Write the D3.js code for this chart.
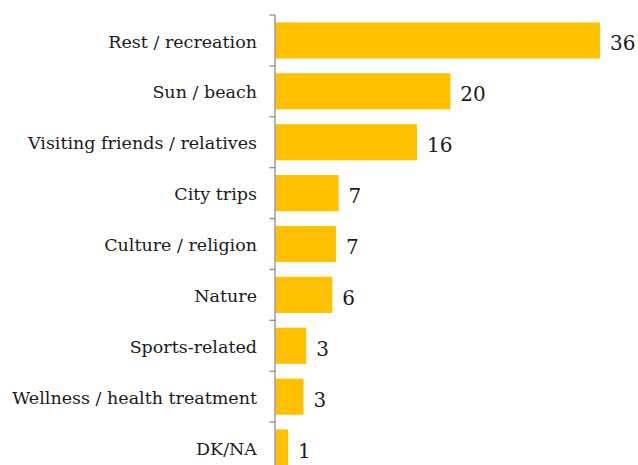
<!DOCTYPE html>
<html>
<head>
<meta charset="utf-8">
<script src="https://cdn.jsdelivr.net/npm/d3@7"></script>
<style>
  body { margin: 0; background: #fff; }
  .cat { font-family: "DejaVu Serif", "Liberation Serif", serif; font-size: 17.5px; fill: #1a1a1a; }
  .val { font-family: "DejaVu Serif", "Liberation Serif", serif; font-size: 20px; fill: #1a1a1a; }
</style>
</head>
<body>
<div id="chart"></div>
<script>
var categories = ["Rest / recreation", "Sun / beach", "Visiting friends / relatives", "City trips",
    "Culture / religion", "Nature", "Sports-related", "Wellness / health treatment", "DK/NA"];
// bar lengths (the printed labels are rounded)
var values = [36, 19.4, 15.7, 7.0, 6.7, 6.3, 3.4, 3.1, 1.4];
var valueLabels = ["36", "20", "16", "7", "7", "6", "3", "3", "1"];

var width = 638,
    height = 465;

var svg = d3.select("#chart").append("svg")
    .attr("width", width)
    .attr("height", height);

var x = d3.scaleLinear()
    .domain([0, 36])
    .range([275.5, 600]);

var y = d3.scaleBand()
    .domain(categories)
    .range([15, 473])
    .paddingInner(0.29)
    .paddingOuter(0.145);

var step = y.step();

// bars
svg.selectAll("rect.bar")
    .data(values)
    .enter()
    .append("rect")
    .attr("class", "bar")
    .attr("x", x(0))
    .attr("y", function(d, i) { return y(categories[i]); })
    .attr("width", function(d) { return x(d) - x(0); })
    .attr("height", y.bandwidth())
    .attr("fill", "#FFC000");

// axis line with ticks between the categories
var axis = svg.append("g").attr("class", "axis");
axis.append("line")
    .attr("x1", x(0) - 0.5).attr("x2", x(0) - 0.5)
    .attr("y1", y.range()[0]).attr("y2", y.range()[1])
    .attr("stroke", "#8c8c8c")
    .attr("stroke-width", 1.3);

var bounds = categories.map(function(c) { return y(c) - step * y.paddingInner() / 2; });
bounds.push(y.range()[1]);

axis.selectAll("line.tick")
    .data(bounds)
    .enter()
    .append("line")
    .attr("class", "tick")
    .attr("x1", x(0) - 6).attr("x2", x(0) - 0.5)
    .attr("y1", function(d) { return d; })
    .attr("y2", function(d) { return d; })
    .attr("stroke", "#8c8c8c")
    .attr("stroke-width", 1.3);

// category labels
svg.selectAll("text.cat")
    .data(categories)
    .enter()
    .append("text")
    .attr("class", "cat")
    .attr("x", 257)
    .attr("y", function(d) { return y(d) + y.bandwidth() / 2 + 1; })
    .attr("dy", "0.35em")
    .attr("text-anchor", "end")
    .text(function(d) { return d; });

// value labels
svg.selectAll("text.val")
    .data(values)
    .enter()
    .append("text")
    .attr("class", "val")
    .attr("x", function(d) { return x(d) + 10; })
    .attr("y", function(d, i) { return y(categories[i]) + y.bandwidth() / 2 + 3; })
    .attr("dy", "0.35em")
    .text(function(d, i) { return valueLabels[i]; });
</script>
</body>
</html>
